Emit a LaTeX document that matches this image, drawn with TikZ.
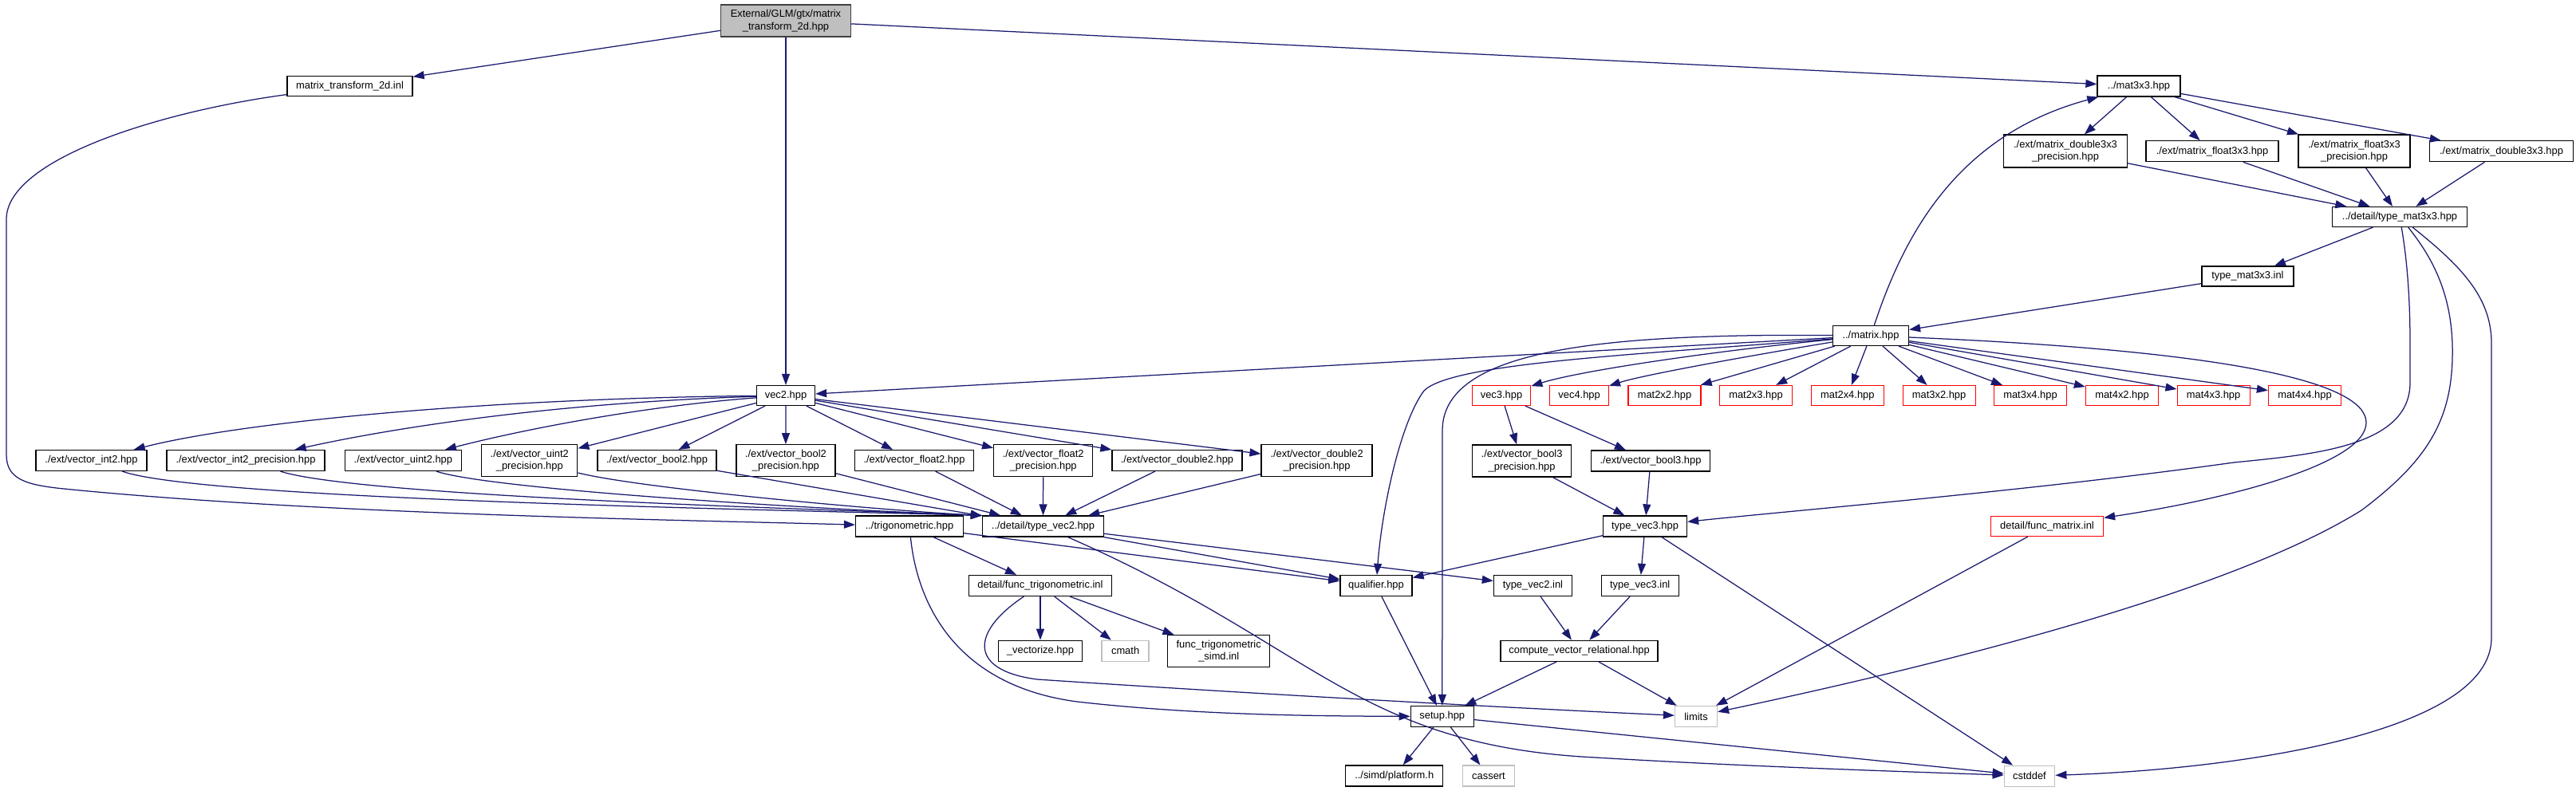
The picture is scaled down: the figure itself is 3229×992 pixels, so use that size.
\documentclass[tikz,border=0pt]{standalone}
\usepackage{fontspec}
\setmainfont{Liberation Sans}
\usetikzlibrary{arrows.meta,calc}
\definecolor{edgeblue}{HTML}{191970}
\definecolor{rootfill}{HTML}{BFBFBF}
\definecolor{lightborder}{HTML}{BFBFBF}
\definecolor{rootborder}{HTML}{404040}
\tikzset{
  box/.style={draw=black, line width=1.25pt, fill=white, inner sep=0pt, align=center,
              font=\fontsize{12.9}{15.5}\selectfont},
  redbox/.style={box, draw=red},
  graybox/.style={box, draw=lightborder},
  rootbox/.style={box, fill=rootfill, draw=rootborder},
  wh/.style 2 args={minimum width=#1pt, minimum height=#2pt},
  edge/.style={draw=edgeblue, line width=1.25pt, -{Triangle[length=14pt,width=10pt]}}
}
\begin{document}
\begin{tikzpicture}[x=1pt,y=-1pt]
\useasboundingbox (0,0) rectangle (3229,992);
\fill[white] (0,0) rectangle (3229,992);
% ---- nodes ----
\node[rootbox, wh={163}{40}] (root) at (985,26) {External/GLM/gtx/matrix\\\_transform\_2d.hpp};
\node[box, wh={157}{25}] (mt2dinl) at (438.5,108) {matrix\_transform\_2d.inl};
\node[box, wh={104}{26}] (mat3x3) at (2681,108) {../mat3x3.hpp};
\node[box, wh={155}{41}] (md33p) at (2589,189.5) {./ext/matrix\_double3x3\\\_precision.hpp};
\node[box, wh={166}{26}] (mf33) at (2773,189.7) {./ext/matrix\_float3x3.hpp};
\node[box, wh={140}{41}] (mf33p) at (2951,189.5) {./ext/matrix\_float3x3\\\_precision.hpp};
\node[box, wh={180}{26}] (md33) at (3135.5,189.7) {./ext/matrix\_double3x3.hpp};
\node[box, wh={169}{25}] (tm33) at (3008,272) {../detail/type\_mat3x3.hpp};
\node[box, wh={115}{25}] (tm33inl) at (2817.4,346.5) {type\_mat3x3.inl};
\node[box, wh={95}{25}] (matrix) at (2345,421) {../matrix.hpp};
\node[box, wh={73}{25}] (vec2) at (985,496) {vec2.hpp};
\node[box, wh={139}{26}] (vi2) at (114.5,577.5) {./ext/vector\_int2.hpp};
\node[box, wh={198}{26}] (vi2p) at (308,577.5) {./ext/vector\_int2\_precision.hpp};
\node[box, wh={146}{26}] (vu2) at (505.4,577.5) {./ext/vector\_uint2.hpp};
\node[box, wh={120}{40}] (vu2p) at (663.8,577.7) {./ext/vector\_uint2\\\_precision.hpp};
\node[box, wh={149}{26}] (vb2) at (823.6,577.5) {./ext/vector\_bool2.hpp};
\node[box, wh={124}{40}] (vb2p) at (984.9,577.7) {./ext/vector\_bool2\\\_precision.hpp};
\node[box, wh={149}{26}] (vf2) at (1146,577.5) {./ext/vector\_float2.hpp};
\node[box, wh={124}{40}] (vf2p) at (1307.7,577.7) {./ext/vector\_float2\\\_precision.hpp};
\node[box, wh={163}{26}] (vd2) at (1475.5,577.5) {./ext/vector\_double2.hpp};
\node[box, wh={139}{40}] (vd2p) at (1650.6,577.7) {./ext/vector\_double2\\\_precision.hpp};
\node[redbox, wh={73.5}{25}] (vec3) at (1882,496) {vec3.hpp};
\node[redbox, wh={73.5}{25}] (vec4) at (1979.6,496) {vec4.hpp};
\node[redbox, wh={91}{25}] (m22) at (2086.5,496) {mat2x2.hpp};
\node[redbox, wh={91}{25}] (m23) at (2201,496) {mat2x3.hpp};
\node[redbox, wh={91}{25}] (m24) at (2315.8,496) {mat2x4.hpp};
\node[redbox, wh={91}{25}] (m32) at (2430.6,496) {mat3x2.hpp};
\node[redbox, wh={91}{25}] (m34) at (2545,496) {mat3x4.hpp};
\node[redbox, wh={91}{25}] (m42) at (2660,496) {mat4x2.hpp};
\node[redbox, wh={91}{25}] (m43) at (2774.6,496) {mat4x3.hpp};
\node[redbox, wh={91}{25}] (m44) at (2889,496) {mat4x4.hpp};
\node[box, wh={124.5}{40}] (vb3p) at (1907.6,578) {./ext/vector\_bool3\\\_precision.hpp};
\node[box, wh={149.5}{26}] (vb3) at (2069,578) {./ext/vector\_bool3.hpp};
\node[box, wh={135}{26}] (trig) at (1140,660) {../trigonometric.hpp};
\node[box, wh={152}{26}] (tv2) at (1307.5,660) {../detail/type\_vec2.hpp};
\node[box, wh={105}{26}] (tv3) at (2062,660) {type\_vec3.hpp};
\node[redbox, wh={141}{25}] (fmat) at (2566,660) {detail/func\_matrix.inl};
\node[box, wh={179}{26}] (ftrig) at (1304,734.5) {detail/func\_trigonometric.inl};
\node[box, wh={90}{26}] (qual) at (1725,734.5) {qualifier.hpp};
\node[box, wh={98}{26}] (tv2inl) at (1921.4,734.5) {type\_vec2.inl};
\node[box, wh={97}{26}] (tv3inl) at (2055.7,734.5) {type\_vec3.inl};
\node[box, wh={105}{26}] (vect) at (1304,816.3) {\_vectorize.hpp};
\node[graybox, wh={59}{26}] (cmath) at (1410.6,816.3) {cmath};
\node[box, wh={128}{40}] (ftsimd) at (1527.7,816.5) {func\_trigonometric\\\_simd.inl};
\node[box, wh={197}{26}] (cvr) at (1979.6,816.3) {compute\_vector\_relational.hpp};
\node[box, wh={79}{26}] (setup) at (1807.8,898.5) {setup.hpp};
\node[graybox, wh={53}{26}] (limits) at (2126,898.5) {limits};
\node[box, wh={122}{26}] (platform) at (1747.7,973) {../simd/platform.h};
\node[graybox, wh={65}{26}] (cassert) at (1866,973) {cassert};
\node[graybox, wh={63.5}{26}] (cstddef) at (2544,973.3) {cstddef};
% ---- edges ----
\draw[edge] (root) -- (mt2dinl);
\draw[edge] (root) -- (vec2);
\draw[edge] (root) -- (mat3x3);
\draw[edge] (mt2dinl) .. controls (200,140) and (8,200) .. (8,275) -- (8,570)
  .. controls (8,600) and (30,608) .. (80,613) .. controls (400,645) and (850,652) .. (trig);
\foreach \t in {md33p,mf33,mf33p,md33} {\draw[edge] (mat3x3) -- (\t);}
\foreach \s in {md33p,mf33,mf33p,md33} {\draw[edge] (\s) -- (tm33);}
\draw[edge] (tm33) -- (tm33inl);
\draw[edge] (tm33) .. controls (3018,330) and (3021,380) .. (3021,430) -- (3021,480)
  .. controls (3021,560) and (2900,570) .. (2800,580) .. controls (2550,615) and (2250,640) .. (tv3);
\draw[edge] (tm33) .. controls (3055,330) and (3076,380) .. (3074,450)
  .. controls (3072,530) and (3040,580) .. (2960,640) .. controls (2800,740) and (2450,830) .. (limits);
\draw[edge] (tm33) .. controls (3080,330) and (3123,370) .. (3123,430) -- (3123,800)
  .. controls (3123,920) and (2800,965) .. (cstddef);
\draw[edge] (tm33inl) -- (matrix);
\draw[edge] (matrix) .. controls (2385,300) and (2450,170) .. (mat3x3);
\draw[edge] (matrix) -- (vec2);
\draw[edge] (matrix) .. controls (2150,440) and (1980,465) .. (vec3);
\draw[edge] (matrix) .. controls (2200,445) and (2060,470) .. (vec4);
\foreach \t in {m22,m23,m24,m32,m34,m42,m43,m44} {\draw[edge] (matrix) -- (\t);}
\draw[edge] (matrix) .. controls (2800,440) and (2966,480) .. (2966,530)
  .. controls (2966,580) and (2800,625) .. (fmat);
\draw[edge] (matrix) .. controls (2050,445) and (1820,455) .. (1785,490)
  .. controls (1755,530) and (1732,640) .. (qual);
\draw[edge] (matrix) .. controls (2000,418) and (1808,440) .. (1808,540) -- (setup);
% vec2 fan
\draw[edge] (vec2) .. controls (600,500) and (300,530) .. (vi2);
\draw[edge] (vec2) .. controls (700,505) and (500,535) .. (vi2p);
\draw[edge] (vec2) .. controls (800,510) and (650,540) .. (vu2);
\foreach \t in {vu2p,vb2,vb2p,vf2,vf2p,vd2,vd2p} {\draw[edge] (vec2) -- (\t);}
% ext -> type_vec2
\draw[edge] (vi2) .. controls (250,625) and (900,638) .. (tv2.north west);
\draw[edge] (vi2p) .. controls (450,622) and (1000,638) .. (tv2.north west);
\draw[edge] (vu2) .. controls (620,615) and (1050,640) .. (tv2.north west);
\draw[edge] (vu2p) .. controls (800,612) and (1100,640) .. (tv2.north west);
\foreach \s in {vb2,vb2p,vf2,vf2p,vd2,vd2p} {\draw[edge] (\s) -- (tv2);}
% type_vec2
\draw[edge] (tv2) -- (qual);
\draw[edge] (tv2) -- (tv2inl);
\draw[edge] (tv2) .. controls (1650,810) and (1700,935) .. (2000,950)
  .. controls (2200,962) and (2400,968) .. (cstddef);
% trigonometric
\draw[edge] (trig) -- (ftrig);
\draw[edge] (trig) -- (qual);
\draw[edge] (trig) .. controls (1150,760) and (1200,860) .. (1350,880)
  .. controls (1500,897) and (1650,898) .. (setup);
\draw[edge] (ftrig) -- (vect);
\draw[edge] (ftrig) -- (cmath);
\draw[edge] (ftrig) -- (ftsimd);
\draw[edge] (ftrig) .. controls (1220,790) and (1210,840) .. (1300,852)
  .. controls (1600,872) and (1900,888) .. (limits);
% vec3 family
\draw[edge] (vec3) -- (vb3p);
\draw[edge] (vec3) -- (vb3);
\draw[edge] (vb3p) -- (tv3);
\draw[edge] (vb3) -- (tv3);
\draw[edge] (tv3) -- (qual);
\draw[edge] (tv3) -- (tv3inl);
\draw[edge] (tv3) -- (cstddef);
\draw[edge] (tv2inl) -- (cvr);
\draw[edge] (tv3inl) -- (cvr);
\draw[edge] (cvr) -- (setup);
\draw[edge] (cvr) -- (limits);
\draw[edge] (qual) -- (setup);
\draw[edge] (fmat) -- (limits);
\draw[edge] (setup) -- (platform);
\draw[edge] (setup) -- (cassert);
\draw[edge] (setup) -- (cstddef);
\end{tikzpicture}
\end{document}
